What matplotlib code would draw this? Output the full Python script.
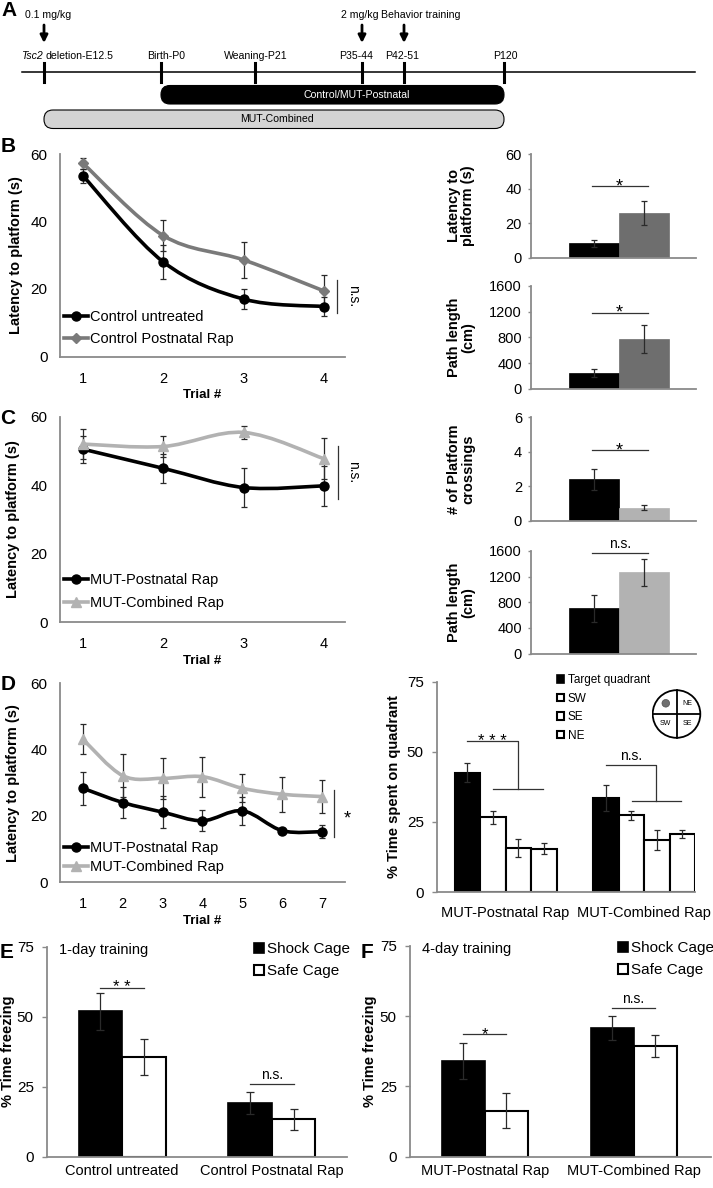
import matplotlib
matplotlib.use('Agg')
import matplotlib.pyplot as plt
import numpy as np
from matplotlib.path import Path
from matplotlib.patches import PathPatch, FancyBboxPatch, Circle, Patch
from matplotlib.lines import Line2D

plt.rcParams['font.family'] = ['Liberation Sans', 'DejaVu Sans']

W, H = 713, 1188

# ---------------- data ----------------
# A: timeline (schematic, pixel positions)
tl_ticks = [44, 161, 255, 362, 404, 504]
tl_labels = ['Birth-P0', 'Weaning-P21', 'P35-44', 'P42-51', 'P120']
tl_label_x = [166, 256, 356, 402, 505]
arrow_x = [44, 362, 404]
arrow_labels = ['0.1 mg/kg', '2 mg/kg', 'Behavior training']
arrow_label_x = [48, 360, 421]

# B: water maze, controls
trials_4 = [1, 2, 3, 4]
b_untreated = [53.5, 28.0, 17.0, 14.8]
b_untreated_err = [2.0, 5.0, 3.0, 2.8]
b_postnatal = [57.2, 35.8, 28.6, 19.4]
b_postnatal_err = [1.6, 4.5, 5.4, 4.7]
b_latency = [8.3, 26.0]
b_latency_err = [2.0, 7.0]
b_path = [243, 780]
b_path_err = [60, 215]

# C: water maze, mutants
c_postnatal = [50.5, 44.9, 39.3, 39.8]
c_postnatal_err = [4.0, 4.3, 5.6, 5.8]
c_combined = [52.0, 51.3, 55.4, 47.7]
c_combined_err = [4.5, 3.0, 2.0, 6.0]
c_crossings = [2.41, 0.77]
c_crossings_err = [0.6, 0.15]
c_path = [704, 1265]
c_path_err = [210, 210]

# D: 7 trials + quadrant probe
trials_7 = [1, 2, 3, 4, 5, 6, 7]
d_postnatal = [28.3, 24.0, 21.1, 18.5, 21.5, 15.5, 15.2]
d_postnatal_err = [5.0, 4.8, 4.9, 3.2, 4.3, 0.7, 2.0]
d_combined = [43.1, 32.1, 31.3, 31.8, 28.3, 26.5, 25.8]
d_combined_err = [4.5, 6.5, 6.2, 6.0, 4.2, 5.3, 5.0]
quad_groups = ['MUT-Postnatal Rap', 'MUT-Combined Rap']
quad_names = ['Target quadrant', 'SW', 'SE', 'NE']
d_target = [42.6, 33.5]
d_target_err = [3.4, 4.7]
d_sw = [26.7, 27.4]
d_sw_err = [2.3, 1.6]
d_se = [15.6, 18.6]
d_se_err = [3.2, 3.5]
d_ne = [15.4, 20.6]
d_ne_err = [1.9, 1.5]

# E / F: fear conditioning
e_groups = ['Control untreated', 'Control Postnatal Rap']
e_shock = [52.0, 19.1]
e_shock_err = [6.6, 4.0]
e_safe = [35.7, 13.4]
e_safe_err = [6.4, 3.7]
f_groups = ['MUT-Postnatal Rap', 'MUT-Combined Rap']
f_shock = [34.0, 45.8]
f_shock_err = [6.3, 4.3]
f_safe = [16.3, 39.4]
f_safe_err = [6.2, 3.8]

BLACK = '#000000'
DARKGRAY = '#6e6e6e'
LIGHTGRAY = '#b2b2b2'
SPINE = '#8a8a8a'
ERR = '#2a2a2a'


def px_axes(left, top, right, bottom):
    return fig.add_axes([left / W, 1 - bottom / H, (right - left) / W, (bottom - top) / H])


def smooth_path(x, y):
    pts = np.column_stack([x, y]).astype(float)
    n = len(pts)
    verts = [pts[0]]
    codes = [Path.MOVETO]
    for i in range(n - 1):
        p0 = pts[max(i - 1, 0)]
        p1 = pts[i]
        p2 = pts[i + 1]
        p3 = pts[min(i + 2, n - 1)]
        verts += [p1 + (p2 - p0) / 6, p2 - (p3 - p1) / 6, p2]
        codes += [Path.CURVE4] * 3
    return Path(verts, codes)


def draw_series(ax, x, y, err, color, marker, ms):
    ax.add_patch(PathPatch(smooth_path(x, y), fill=False, edgecolor=color, lw=2.6, zorder=2))
    ax.errorbar(x, y, yerr=err, fmt='none', ecolor=ERR, elinewidth=0.9, capsize=2.5,
                capthick=0.9, zorder=3)
    ax.plot(x, y, ls='none', marker=marker, color=color, ms=ms, zorder=4)


def style_line_axes(ax, xticks, xlim, label_x):
    for s in ['top', 'right']:
        ax.spines[s].set_visible(False)
    for s in ['left', 'bottom']:
        ax.spines[s].set_color(SPINE)
        ax.spines[s].set_linewidth(1.3)
    ax.set_ylim(0, 60)
    ax.set_xlim(*xlim)
    ax.set_yticks([0, 20, 40, 60])
    ax.set_xticks(xticks)
    ax.tick_params(axis='y', length=0, pad=9, labelsize=11)
    ax.tick_params(axis='x', length=0, pad=11, labelsize=10.5)
    ax.set_xlabel('Trial #', fontsize=9.5, fontweight='bold', labelpad=2.5)
    ax.set_ylabel('Latency to platform (s)', fontsize=10.5, fontweight='bold')
    ax.yaxis.set_label_coords(label_x, 0.5)


def style_bar_axes(ax, ylim, yticks, ticklen=2.5, pad=4, labelsize=10.5):
    for s in ['top', 'right']:
        ax.spines[s].set_visible(False)
    for s in ['left', 'bottom']:
        ax.spines[s].set_color(SPINE)
        ax.spines[s].set_linewidth(1.3)
    ax.set_ylim(*ylim)
    ax.set_yticks(yticks)
    ax.tick_params(axis='y', length=ticklen, width=1, color=SPINE, pad=pad, labelsize=labelsize)


def bracket(ax, x0, x1, y, text, fs=12, dy=-3):
    ax.plot([x0, x1], [y, y], color='#333333', lw=0.9, clip_on=False)
    ax.annotate(text, xy=((x0 + x1) / 2, y), xytext=(0, dy), textcoords='offset points',
                ha='center', va='baseline', fontsize=fs, annotation_clip=False)


def small_bars(ax, vals, errs, colors, ylim, yticks, ylabel, sig, sig_y):
    pos = np.arange(len(vals))
    ax.bar(pos, vals, width=1.0, color=colors, edgecolor=colors, lw=0.5)
    ax.errorbar(pos, vals, yerr=errs, fmt='none', ecolor=ERR, elinewidth=0.9, capsize=2.5,
                capthick=0.9)
    ax.set_xlim(-1.26, 2.04)
    ax.set_xticks([])
    style_bar_axes(ax, ylim, yticks)
    ax.set_ylabel(ylabel, fontsize=10.5, fontweight='bold', linespacing=1.0)
    ax.yaxis.set_label_coords(-0.34, 0.5)
    if sig == 'n.s.':
        bracket(ax, -0.05, 1.08, sig_y, sig, fs=10, dy=3.5)
    else:
        bracket(ax, -0.05, 1.08, sig_y, sig, fs=13, dy=-3.5)


fig = plt.figure(figsize=(W / 100, H / 100), dpi=100)

# ---------------- A: timeline ----------------
axA = fig.add_axes([0, 1 - 140 / H, 1, 140 / H])
axA.set_xlim(0, W)
axA.set_ylim(140, 0)
axA.axis('off')
afs = 7.6
axA.plot([22, 695], [72, 72], color='black', lw=1.1)
for x in tl_ticks:
    axA.plot([x, x], [63, 82], color='black', lw=2.2)
axA.text(42.5, 56, 'Tsc2', style='italic', ha='right', va='center', fontsize=afs)
axA.text(45.5, 56, 'deletion-E12.5', ha='left', va='center', fontsize=afs)
for lx, lab in zip(tl_label_x, tl_labels):
    axA.text(lx, 56, lab, ha='center', va='center', fontsize=afs)
for ax_x, lab, lx in zip(arrow_x, arrow_labels, arrow_label_x):
    axA.annotate('', xy=(ax_x, 43), xytext=(ax_x, 25),
                 arrowprops=dict(arrowstyle='-|>', color='black', lw=2, mutation_scale=11,
                                 shrinkA=0, shrinkB=0))
    axA.text(lx, 15, lab, ha='center', va='center', fontsize=afs)
axA.add_patch(FancyBboxPatch((161, 85.5), 343, 18.5, boxstyle='round,pad=0,rounding_size=9',
                             facecolor='black', edgecolor='black', lw=0.8))
axA.text(357, 95, 'Control/MUT-Postnatal', color='white', ha='center', va='center',
         fontsize=afs)
axA.add_patch(FancyBboxPatch((44, 110), 460, 18.5, boxstyle='round,pad=0,rounding_size=9',
                             facecolor='#d4d4d4', edgecolor='black', lw=0.8))
axA.text(277, 119.5, 'MUT-Combined', color='black', ha='center', va='center', fontsize=afs)

# ---------------- B: line ----------------
axB = px_axes(60, 154, 345, 356.5)
draw_series(axB, trials_4, b_untreated, b_untreated_err, BLACK, 'o', 6.5)
draw_series(axB, trials_4, b_postnatal, b_postnatal_err, '#7a7a7a', 'D', 5)
style_line_axes(axB, trials_4, (0.713, 4.26), -0.13)
axB.plot([4.16, 4.16], [12.9, 22.7], color='#333333', lw=0.9)
axB.text(4.27, 17.8, 'n.s.', rotation=270, ha='left', va='center', fontsize=10, clip_on=False)
hB = [Line2D([], [], color=BLACK, lw=2.6, marker='o', ms=6.5),
      Line2D([], [], color='#7a7a7a', lw=2.6, marker='D', ms=5)]
axB.legend(hB, ['Control untreated', 'Control Postnatal Rap'], loc='lower left',
           bbox_to_anchor=(0.015, 0.05), frameon=False, fontsize=10.5, handlelength=1.6,
           handletextpad=0.15, borderpad=0, borderaxespad=0, labelspacing=0.6)

axB1 = px_axes(531, 154, 696, 257.7)
small_bars(axB1, b_latency, b_latency_err, [BLACK, DARKGRAY], (0, 60), [0, 20, 40, 60],
           'Latency to\nplatform (s)', '*', 41.4)
axB2 = px_axes(531, 285.7, 696, 389)
small_bars(axB2, b_path, b_path_err, [BLACK, DARKGRAY], (0, 1600), [0, 400, 800, 1200, 1600],
           'Path length\n(cm)', '*', 1180)

# ---------------- C: line ----------------
axC = px_axes(60, 416.7, 345, 622)
draw_series(axC, trials_4, c_postnatal, c_postnatal_err, BLACK, 'o', 6.5)
draw_series(axC, trials_4, c_combined, c_combined_err, LIGHTGRAY, '^', 7)
style_line_axes(axC, trials_4, (0.713, 4.26), -0.14)
axC.plot([4.17, 4.17], [36.0, 51.3], color='#333333', lw=0.9)
axC.text(4.27, 43.8, 'n.s.', rotation=270, ha='left', va='center', fontsize=10, clip_on=False)
hC = [Line2D([], [], color=BLACK, lw=2.6, marker='o', ms=6.5),
      Line2D([], [], color=LIGHTGRAY, lw=2.6, marker='^', ms=7)]
axC.legend(hC, ['MUT-Postnatal Rap', 'MUT-Combined Rap'], loc='lower left',
           bbox_to_anchor=(0.015, 0.06), frameon=False, fontsize=10.5, handlelength=1.6,
           handletextpad=0.15, borderpad=0, borderaxespad=0, labelspacing=0.6)

axC1 = px_axes(531, 417.3, 696, 521)
small_bars(axC1, c_crossings, c_crossings_err, [BLACK, LIGHTGRAY], (0, 6), [0, 2, 4, 6],
           '# of Platform\ncrossings', '*', 4.1)
axC2 = px_axes(531, 551, 696, 653.5)
small_bars(axC2, c_path, c_path_err, [BLACK, LIGHTGRAY], (0, 1600), [0, 400, 800, 1200, 1600],
           'Path length\n(cm)', 'n.s.', 1576)

# ---------------- D: line ----------------
axD = px_axes(60, 683.3, 345, 882)
draw_series(axD, trials_7, d_postnatal, d_postnatal_err, BLACK, 'o', 6.5)
draw_series(axD, trials_7, d_combined, d_combined_err, LIGHTGRAY, '^', 7)
style_line_axes(axD, trials_7, (0.425, 7.575), -0.14)
axD.plot([7.3, 7.3], [13.7, 27.8], color='#333333', lw=0.9)
axD.text(7.62, 19.0, '*', ha='center', va='center', fontsize=13, clip_on=False)
hD = [Line2D([], [], color=BLACK, lw=2.6, marker='o', ms=6.5),
      Line2D([], [], color=LIGHTGRAY, lw=2.6, marker='^', ms=7)]
axD.legend(hD, ['MUT-Postnatal Rap', 'MUT-Combined Rap'], loc='lower left',
           bbox_to_anchor=(0.015, 0.04), frameon=False, fontsize=10.5, handlelength=1.6,
           handletextpad=0.15, borderpad=0, borderaxespad=0, labelspacing=0.35)

# ---------------- D: quadrant bars ----------------
axQ = px_axes(437, 681.7, 695, 892)
gap = 5.43
gidx = np.arange(len(quad_groups))
quad_vals = [d_target, d_sw, d_se, d_ne]
quad_errs = [d_target_err, d_sw_err, d_se_err, d_ne_err]
for k, (vals, errs) in enumerate(zip(quad_vals, quad_errs)):
    xs = gidx * gap + k
    fc = BLACK if k == 0 else 'white'
    axQ.bar(xs, vals, width=1.0, color=fc, edgecolor='black', lw=1.5)
    axQ.errorbar(xs, vals, yerr=errs, fmt='none', ecolor=ERR, elinewidth=0.9, capsize=2.5,
                 capthick=0.9)
axQ.set_xlim(-1.19, 8.93)
axQ.set_xticks(gidx * gap + 1.5)
axQ.set_xticklabels(quad_groups)
axQ.tick_params(axis='x', length=0, pad=10, labelsize=10.5)
style_bar_axes(axQ, (0, 75), [0, 25, 50, 75], ticklen=3.5, pad=6, labelsize=11)
axQ.set_ylabel('% Time spent on quadrant', fontsize=10.5, fontweight='bold')
axQ.yaxis.set_label_coords(-0.14, 0.5)
# significance brackets
axQ.plot([0, 2, 2], [53.9, 53.9, 36.8], color='#333333', lw=0.9)
axQ.plot([1.02, 2.96], [36.8, 36.8], color='#333333', lw=0.9)
axQ.annotate('* * *', xy=(1.0, 53.9), xytext=(0, -3.5), textcoords='offset points',
             ha='center', va='baseline', fontsize=12)
axQ.plot([5.44, 7.40, 7.40], [45.4, 45.4, 32.5], color='#333333', lw=0.9)
axQ.plot([6.45, 8.38], [32.5, 32.5], color='#333333', lw=0.9)
axQ.annotate('n.s.', xy=(6.42, 45.4), xytext=(0, 3.5), textcoords='offset points',
             ha='center', va='baseline', fontsize=10)
hQ = [Patch(facecolor='black', edgecolor='black', lw=1.2)] + \
     [Patch(facecolor='white', edgecolor='black', lw=1.5) for _ in range(3)]
axQ.legend(hQ, quad_names, loc='upper left', bbox_to_anchor=(0.465, 1.035), frameon=False,
           fontsize=8.5, handlelength=0.6, handleheight=0.6, handletextpad=0.3, borderpad=0,
           borderaxespad=0, labelspacing=0.55)

# quadrant schematic
axI = px_axes(651.5, 689, 701.5, 739)
axI.set_xlim(-1.05, 1.05)
axI.set_ylim(-1.05, 1.05)
axI.axis('off')
axI.add_patch(Circle((0, 0), 1.0, facecolor='white', edgecolor='black', lw=1.3))
axI.plot([-1, 1], [0, 0], color='black', lw=1.3)
axI.plot([0, 0], [-1, 1], color='black', lw=1.3)
axI.add_patch(Circle((-0.45, 0.45), 0.16, facecolor='#707070', edgecolor='#505050', lw=0.5))
axI.text(0.45, 0.45, 'NE', fontsize=5, ha='center', va='center')
axI.text(-0.45, -0.38, 'SW', fontsize=5, ha='center', va='center')
axI.text(0.45, -0.38, 'SE', fontsize=5, ha='center', va='center')

# ---------------- E / F: fear conditioning ----------------
def fear_panel(ax, groups, shock, shock_err, safe, safe_err, xlim, gsp, title):
    g = np.arange(len(groups)) * gsp
    ax.bar(g, shock, width=1.0, color='black', edgecolor='black', lw=1.2)
    ax.bar(g + 1, safe, width=1.0, color='white', edgecolor='black', lw=1.5)
    ax.errorbar(g, shock, yerr=shock_err, fmt='none', ecolor=ERR, elinewidth=0.9, capsize=3,
                capthick=0.9)
    ax.errorbar(g + 1, safe, yerr=safe_err, fmt='none', ecolor=ERR, elinewidth=0.9, capsize=3,
                capthick=0.9)
    ax.set_xlim(*xlim)
    ax.set_xticks(g + 0.5)
    ax.set_xticklabels(groups)
    ax.tick_params(axis='x', length=0, pad=5, labelsize=10.5)
    style_bar_axes(ax, (0, 75), [0, 25, 50, 75], ticklen=3.5, pad=6, labelsize=11)
    ax.set_ylabel('% Time freezing', fontsize=10.5, fontweight='bold')
    ax.text(0.04, 0.985, title, transform=ax.transAxes, ha='left', va='center', fontsize=10.5)
    h = [Patch(facecolor='black', edgecolor='black', lw=1.2),
         Patch(facecolor='white', edgecolor='black', lw=1.5)]
    ax.legend(h, ['Shock Cage', 'Safe Cage'], loc='upper left', bbox_to_anchor=(0.69, 1.02),
              frameon=False, fontsize=11, handlelength=0.65, handleheight=0.65,
              handletextpad=0.2, borderpad=0, borderaxespad=0, labelspacing=0.5)
    return g


axE = px_axes(47, 946.7, 347, 1156.7)
gE = fear_panel(axE, e_groups, e_shock, e_shock_err, e_safe, e_safe_err, (-1.23, 5.67), 3.44,
                '1-day training')
axE.yaxis.set_label_coords(-0.108, 0.5)
bracket(axE, gE[0], gE[0] + 1, 60.4, '* *', fs=12, dy=-3.5)
bracket(axE, gE[1], gE[1] + 1, 26.0, 'n.s.', fs=10, dy=3.5)

axF = px_axes(410, 945.7, 711, 1156.7)
gF = fear_panel(axF, f_groups, f_shock, f_shock_err, f_safe, f_safe_err, (-1.24, 5.76), 3.46,
                '4-day training')
axF.yaxis.set_label_coords(-0.111, 0.5)
bracket(axF, gF[0], gF[0] + 1, 43.5, '*', fs=12, dy=-3.5)
bracket(axF, gF[1], gF[1] + 1, 53.0, 'n.s.', fs=10, dy=3.5)

# panel letters
for lab, x, y in [('A', 9, 11), ('B', 8, 147), ('C', 8, 419), ('D', 8, 685),
                  ('E', 7, 952), ('F', 367, 952)]:
    fig.text(x / W, 1 - y / H, lab, fontsize=15, fontweight='bold', ha='center', va='center')

fig.savefig('out.png', dpi=100)
